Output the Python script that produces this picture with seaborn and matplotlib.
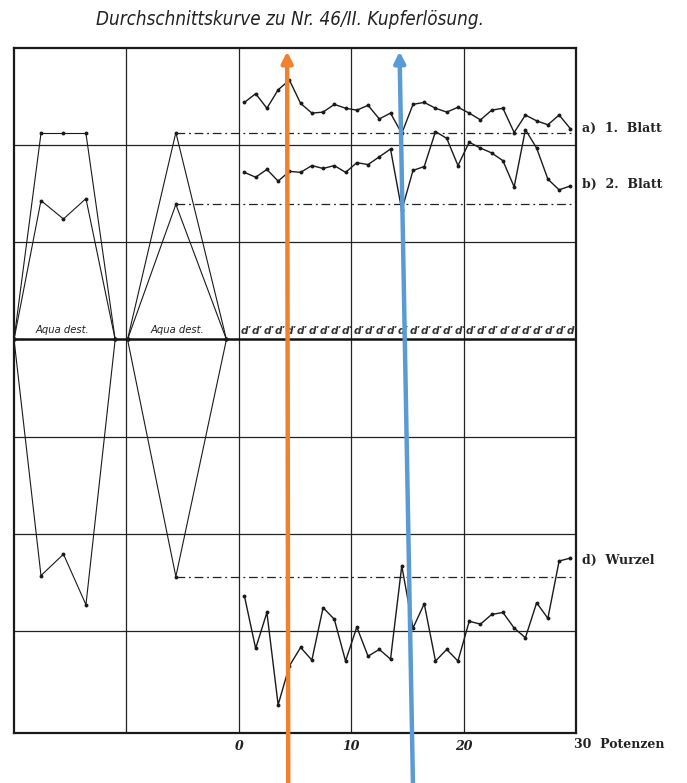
import matplotlib
matplotlib.use("Agg")
import matplotlib.pyplot as plt
import matplotlib.transforms as mtransforms
import seaborn as sns

# ---------------------------------------------------------
# DATA (1 grid step = 1 unit, baseline = 0)
# ---------------------------------------------------------
potenz = list(range(1, 31))

blatt1 = [2.44, 2.53, 2.38, 2.57, 2.67, 2.43, 2.33, 2.34, 2.42, 2.38,
          2.36, 2.41, 2.27, 2.33, 2.12, 2.42, 2.44, 2.38, 2.34, 2.39,
          2.33, 2.26, 2.36, 2.38, 2.13, 2.31, 2.25, 2.21, 2.31, 2.17]

blatt2 = [1.72, 1.67, 1.75, 1.63, 1.73, 1.72, 1.79, 1.76, 1.79, 1.72,
          1.82, 1.80, 1.88, 1.96, 1.33, 1.74, 1.78, 2.14, 2.07, 1.79,
          2.03, 1.97, 1.92, 1.84, 1.57, 2.16, 1.97, 1.65, 1.54, 1.58]

wurzel = [-2.64, -3.18, -2.81, -3.76, -3.36, -3.17, -3.30, -2.76, -2.88, -3.31,
          -2.96, -3.26, -3.19, -3.29, -2.33, -2.97, -2.72, -3.31, -3.19, -3.31,
          -2.90, -2.93, -2.83, -2.81, -2.97, -3.07, -2.71, -2.87, -2.28, -2.25]

# Aqua dest. controls (two panels left of the potency range)
ctrl1_x = [-17.6, -15.6, -13.6]
ctrl1_a = [2.12, 2.12, 2.12]
ctrl1_b = [1.43, 1.24, 1.45]
ctrl1_d = [-2.43, -2.21, -2.73]

ctrl2_x = [-5.6]
ctrl2_a = [2.13]
ctrl2_b = [1.39]
ctrl2_d = [-2.44]

series_labels = ["a)  1.  Blatt", "b)  2.  Blatt", "d)  Wurzel"]
title = "Durchschnittskurve zu Nr. 46/II. Kupferlösung."

# ---------------------------------------------------------
# FIGURE
# ---------------------------------------------------------
sns.set_theme(style="white")
plt.rcParams["font.family"] = ["DejaVu Sans"]

fig = plt.figure(figsize=(6.87, 7.83), dpi=100)
ax = fig.add_axes([0.0204, 0.0639, 0.818, 0.8748])
ax.set_xlim(-20, 30)
ax.set_ylim(-4.05, 3.0)

for s in ax.spines.values():
    s.set_linewidth(1.6)
    s.set_color("#1a1a1a")

# grid
for gx in [-10, 0, 10, 20]:
    ax.axvline(gx, color="#222222", lw=0.9, zorder=1)
for gy in [-3, -2, -1, 1, 2]:
    ax.axhline(gy, color="#222222", lw=0.9, zorder=1)
ax.axhline(0, color="#111111", lw=1.8, zorder=1)

line_kw = dict(color="#1a1a1a", linewidth=1.0, marker="o", markersize=2.8,
               markeredgewidth=0, sort=False, legend=False, ax=ax)

xs = [p - 0.5 for p in potenz]
for vals in [blatt1, blatt2, wurzel]:
    sns.lineplot(x=xs, y=vals, **line_kw)

# control panels: each curve starts and ends on the baseline
ctrl_kw = dict(line_kw)
ctrl_kw["linewidth"] = 0.8
for x_pts, cols, (x0, x1) in [(ctrl1_x, [ctrl1_a, ctrl1_b, ctrl1_d], (-20, -11.0)),
                              (ctrl2_x, [ctrl2_a, ctrl2_b, ctrl2_d], (-9.9, -1.1))]:
    for vals in cols:
        sns.lineplot(x=[x0] + x_pts + [x1], y=[0] + vals + [0], **ctrl_kw)

# reference (dash-dot) lines at the control level
for val in [ctrl2_a[0], ctrl2_b[0], ctrl2_d[0]]:
    ax.plot([ctrl2_x[0], 29.8], [val, val], color="#222222", lw=0.9,
            linestyle=(0, (7, 3, 1.5, 3)), zorder=2)

# potency marks on the baseline
for x in xs:
    ax.text(x, 0.04, "ď", fontsize=7.5, style="italic", fontweight="bold",
            ha="center", va="bottom", color="#333333")

for cx in [-15.7, -5.5]:
    ax.text(cx, 0.05, "Aqua dest.", fontsize=8, style="italic",
            fontstretch="condensed", ha="center", va="bottom", color="#222222")

# axis ticks
ax.set_xticks([0, 10, 20])
ax.set_xticklabels(["0", "10", "20"], family="DejaVu Serif", style="italic",
                   fontweight="bold", fontsize=9, color="#222222")
ax.tick_params(axis="x", length=0, pad=5)
ax.set_yticks([])
ax.text(29.8, -4.17, "30  Potenzen", family="DejaVu Serif", fontweight="bold",
        fontsize=9, ha="left", va="center", color="#222222", clip_on=False)

# series labels on the right
for lab, yv in zip(series_labels, [2.17, 1.6, -2.27]):
    ax.text(30.5, yv, lab, family="DejaVu Serif", fontweight="bold", fontsize=9,
            ha="left", va="center", color="#222222", clip_on=False)

fig.text(0.422, 0.975, title, family="DejaVu Sans", style="italic",
         fontstretch="condensed", fontsize=13.5, ha="center", va="center",
         color="#222222")

# coloured marker arrows
trans = mtransforms.blended_transform_factory(ax.transData, ax.transAxes)
for (xb, xt), col in [((4.4, 4.3), "#F0812F"), ((15.5, 14.3), "#5B9BD5")]:
    ax.annotate("", xy=(xt, 0.995), xytext=(xb, -0.08), xycoords=trans,
                textcoords=trans, annotation_clip=False,
                arrowprops=dict(arrowstyle="-|>", color=col, lw=3.2,
                                mutation_scale=16, shrinkA=0, shrinkB=0))

fig.savefig("out.png", dpi=100)
